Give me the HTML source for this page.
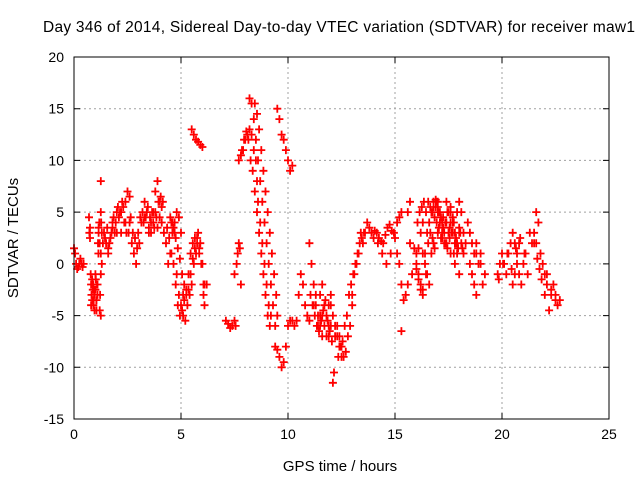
<!DOCTYPE html>
<html><head><meta charset="utf-8">
<style>
body{margin:0;background:#fff;}
svg{display:block;font-family:"Liberation Sans",sans-serif;}
</style></head>
<body>
<svg id="chart" width="640" height="480" viewBox="0 0 640 480">
<rect width="640" height="480" fill="#fff"/>
<text x="339" y="32" font-size="15.5" text-anchor="middle" textLength="592" fill="#000">Day 346 of 2014, Sidereal Day-to-day VTEC variation (SDTVAR) for receiver maw1</text>
<g id="grid"></g>
<g id="ticks"></g>
<g id="marks"></g>
<rect x="74" y="57" width="535" height="362" fill="none" stroke="#000" stroke-width="1"/>
<text x="340" y="471" font-size="15" text-anchor="middle">GPS time / hours</text>
<text transform="translate(18,238) rotate(-90)" font-size="15" text-anchor="middle">SDTVAR / TECUs</text>
</svg>
<script>
const xTicks=[0,5,10,15,20,25];
const yTicks=[-15,-10,-5,0,5,10,15,20];
const times=[0,0.05,0.1,0.15,0.2,0.25,0.3,0.35,0.4,0.45,
0.7,0.72,0.75,0.8,0.82,0.85,0.88,0.9,0.95,1.0,1.02,1.05,1.1,1.12,1.15,1.2,1.22,1.25,1.25,1.27,1.3,1.3,1.35,
1.4,1.5,1.6,1.7,1.8,1.9,2.0,2.1,2.2,2.3,2.4,2.5,2.6,2.7,2.8,2.9,3.0,
3.1,3.2,3.3,3.4,3.5,3.6,3.7,3.8,3.9,4.0,4.1,4.2,4.3,4.4,4.5,4.6,4.7,4.8,4.9,5.0,5.05,5.1,
4.5,4.6,4.7,4.8,4.9,5.0,5.1,5.2,5.3,5.4,5.5,5.6,5.7,5.8,5.9,6.0,6.1,6.1,6.2,
5.5,5.6,5.7,5.8,5.9,6.0,
7.1,7.2,7.3,7.4,7.5,7.5,7.6,7.65,7.7,7.75,7.8,7.55,
7.7,7.8,7.9,8.0,8.1,8.2,8.3,8.4,8.5,8.55,8.6,8.7,8.8,8.9,9.0,9.1,9.2,
8.2,8.3,8.4,8.5,8.6,8.7,8.8,8.9,9.0,9.1,9.2,9.3,9.4,9.5,
9.5,9.6,9.7,9.8,9.9,10.0,10.1,10.2,
9.4,9.5,9.6,9.7,9.8,9.9,10.0,10.1,10.2,10.3,10.4,10.5,10.6,10.7,10.8,10.9,11.0,
11.0,11.1,11.2,11.3,11.4,11.5,11.6,11.7,11.8,11.9,12.0,12.1,12.2,12.3,12.4,12.5,12.6,12.7,12.8,12.9,13.0,
11.5,11.6,11.7,11.8,11.9,12.0,12.1,12.2,12.3,12.4,12.5,12.1,12.15,
13.0,13.1,13.2,13.3,13.4,13.5,13.6,13.7,13.8,13.9,
14.0,14.2,14.4,14.6,14.8,15.0,15.1,15.2,15.3,
15.1,15.2,15.3,15.4,15.5,15.6,15.8,16.0,16.1,16.2,16.3,15.3,15.6,15.7,15.7,
16.0,16.1,16.2,16.3,16.4,16.5,16.6,16.7,16.8,16.9,17.0,17.1,17.2,17.3,17.4,17.5,17.6,17.7,17.8,17.9,18.0,18.1,18.2,18.3,18.4,18.5,18.6,18.7,18.8,
16.6,16.7,16.8,16.9,17.0,17.1,17.2,17.3,17.4,17.5,17.6,17.7,17.8,17.9,18.0,18.1,18.2,
16.3,16.4,16.5,16.6,16.7,16.8,17.0,17.2,17.4,17.6,17.8,18.0,
18.5,18.6,18.7,18.8,18.9,19.0,19.1,19.2,18.6,18.8,19.0,
19.8,19.9,20.0,20.1,20.2,20.3,20.4,20.5,20.6,20.7,20.8,20.9,21.0,21.1,21.2,
20.5,20.6,20.7,20.8,21.0,21.2,21.4,21.5,21.6,21.7,21.8,21.9,22.0,
22.0,22.1,22.2,22.3,22.4,22.5,22.6,22.7,21.6,21.7,
0.75,0.78,0.82,0.86,0.92,0.96,1.04,1.08,1.14,1.18,0.8,0.9,1.0,1.1,0.85,0.95,1.05,1.15,1.2,1.25,1.25,1.25,
1.45,1.55,1.65,1.75,1.85,1.95,2.05,2.15,2.25,2.35,2.45,2.55,1.6,1.8,2.0,2.2,2.4,2.6,2.65,2.75,2.85,2.95,
3.05,3.15,3.25,3.35,3.45,3.55,3.65,3.75,3.85,3.95,4.05,4.15,3.3,3.5,3.7,3.9,4.1,3.6,3.8,4.0,
4.35,4.45,4.55,4.65,4.75,4.85,4.95,5.05,5.15,5.25,5.35,5.45,5.55,5.65,5.75,5.85,5.95,6.05,
4.55,4.65,4.75,4.85,4.95,5.05,5.15,5.25,5.35,5.45,5.55,5.65,5.75,5.85,5.95,6.05,
7.85,7.95,8.05,8.15,8.25,8.35,8.45,8.55,8.65,8.75,8.85,8.95,9.05,9.15,
8.45,8.55,8.65,8.75,8.85,8.95,9.05,9.15,9.25,9.35,9.45,
11.05,11.15,11.25,11.35,11.45,11.55,11.65,11.75,11.85,11.95,12.05,11.2,11.4,11.6,11.8,12.0,11.3,11.5,11.7,11.9,
16.05,16.15,16.25,16.35,16.45,16.55,16.65,16.75,16.85,16.95,17.05,17.15,17.25,17.35,17.45,17.55,17.65,17.75,17.85,17.95,18.05,18.15,
16.5,16.6,16.7,16.8,16.9,17.0,17.1,17.2,17.3,17.4,17.5,17.6,17.7,17.8,17.9,18.0,
16.55,16.65,16.75,16.85,16.95,17.05,17.15,17.25,17.35,17.45,17.55,17.65,17.75,17.85,
14.05,14.15,14.25,14.35,14.45,14.55,14.65,14.75,14.85,14.95,
15.9,16.0,16.1,16.2,16.3,16.45,
19.85,20.05,20.25,20.45,20.65,20.85,21.05,21.3,21.5,21.65,21.75,21.85,22.1,22.3,22.5,
12.35,12.45,12.55,12.65,12.75,12.85,12.95,13.05,13.15,13.25,13.35,13.45,13.55];
const values=[1.5,1.0,0,-0.5,-0.3,0,0.5,0,-0.3,0,
4.5,3,2.5,-2,-3,-3.5,-2.5,-4,-3,-2.5,-1.5,-4.5,-2,2,3,2,-3,-5,8,4,0,3,2,
3,2,1,2.5,4,3,5,4.5,3,5.5,6,7,4,2,1,0,3,
4.5,5,6,5,3,4,5,7,8,6,4,3,2,0,1,3,4,5,4.5,3,-1,-3,
4.5,4,3,-1,-3,-4,-5,-5.5,-4,-3,-2,0,1,3,2,0,-2,-4,-2,
13,12.5,12,11.8,11.5,11.3,
-5.5,-5.8,-6.2,-6,-5.5,-1,0,1,2,1.5,-2,-6,
10,10.5,11,12,12.5,13,12.5,11,10,8,6,4,2,0,-2,-4,-5,
16,15.5,14,12,10,8,6,4,2,0,-2,-4,-6,-5,
15,14,12.5,12,11,10,9,9.5,
-8,-8.3,-9,-10,-9.5,-8,-6,-5.5,-5.5,-6,-5.5,-3,-1,-2,-4,-5,-5.5,
2,0,-2,-4,-5,-6,-7,-6,-5,-4,-3,-5,-7,-6,-7,-8,-9,-8.5,-7,-6,-4,
-3,-2,-4,-5,-6,-4,-5,-6,-7,-8,-9,-11.5,-10.5,
-3,-1,0,1,3,2,3,4,3.5,3,
2.5,2,1,0,1,2.5,4,4.5,5,
1,0,-2,-3.5,-3,-2,-1,1,1.5,3,4,-6.5,5,6,2,
0,-1,-2,-3,1,3,4,5,6,5.5,6,5,4,3,6,5,4,3,2,5,6,5,3,2,4,3,2,1,2,
4,5,5.5,6,5,4,3,2,4,3,5,4,2,1,3,2,1,
1,0,-1,-2,1,2,3,2.5,2,1,0,-1,
0,-1,-2,-3,0,1,-2,-1,2,1,0,
-1,0,1,0,-1,1,2,3,2,0,-1,-2,0,1,-1,
-2,-1,1,2,0,-1,2,3,5,4,1,0,-1,
-3,-2,-4.5,-3,-2,-3.5,-4,-3.5,2,4,
3.5,-1,-3,-2,-3.5,-4.5,-3.5,-2,1,4,-4,-2,-1,-3,-1.5,-2.5,-3.5,3.5,-4.5,5,-1,1,
2.5,3.5,2,3,4.5,4,5.5,5,6,4,3,3,1.5,3.5,3,5,4,6.5,4.5,3,2.5,1.5,2,4,
4,4.5,5.5,4.5,5,3.5,4.5,6,6.5,6,4.5,3.5,4,3.5,5.5,3,5,4.5,
3.5,2.5,1,0,-2,-4,-5,-4.5,-3.5,-2.5,-1,1,2,2.5,2,1,0,-3,
4,3.5,2.5,1.5,0.5,-1,-2,-3,-2.5,-1,0.5,1.5,2.5,1.5,0,-2,
11,12,12.8,12,10,9,7,5,3,1,-1,-3,-5,-6,
15.5,14.5,13,11,9,7,5,3,1,-1,-3,
-3,-4,-5,-6,-6.5,-5.5,-4.5,-3.5,-5.5,-6.5,-7.5,-4,-6,-5,-7,-6,-3,-5,-6,-7,
4,5,5.5,6,5,6,5.5,5,4.5,6,5,4.5,3.5,4,5,3.5,3,4,2.5,1.5,3,1.5,
3,4,5,6,6.2,5.5,4,3,2,4,3,5.5,4.5,3,2,3.5,
2,3,2.5,1.5,4,3.5,2.5,4.5,2,1.5,2.5,3,1,2,
3.2,3,2.5,2.2,2,2.8,3.5,3.8,3.2,3,
1.5,-0.5,-1.5,-2.5,-2.5,-1,
-1.5,0,1,-0.5,1.5,2.5,1,3,2,0.5,-0.5,-1.5,-1,-2.5,-3,
-9,-8,-7.5,-6,-5,-3,-2,-1,0,1,2,2.5,3];
const X0=74,X1=609,Y0=419,Y1=57,XMIN=0,XMAX=25,YMIN=-15,YMAX=20;
function sx(v){return X0+(v-XMIN)/(XMAX-XMIN)*(X1-X0);}
function sy(v){return Y0-(v-YMIN)/(YMAX-YMIN)*(Y0-Y1);}
const NS="http://www.w3.org/2000/svg";
const grid=document.getElementById('grid'),ticks=document.getElementById('ticks'),marks=document.getElementById('marks');
xTicks.forEach(t=>{
  const x=sx(t);
  if(t>XMIN&&t<XMAX){const l=document.createElementNS(NS,'line');
  l.setAttribute('x1',x);l.setAttribute('x2',x);l.setAttribute('y1',Y1);l.setAttribute('y2',Y0);
  l.setAttribute('stroke','#a0a0a0');l.setAttribute('stroke-dasharray','2,3');
  
  
  grid.appendChild(l);}
  const tk=document.createElementNS(NS,'path');
  tk.setAttribute('d',`M${x} ${Y0}v-6M${x} ${Y1}v6`);tk.setAttribute('stroke','#000');
  
  
  ticks.appendChild(tk);
  const tx=document.createElementNS(NS,'text');
  tx.setAttribute('x',x);tx.setAttribute('y',Y0+20);tx.setAttribute('text-anchor','middle');tx.setAttribute('font-size','14');
  tx.textContent=t;
  
  
  ticks.appendChild(tx);
});
yTicks.forEach(t=>{
  const y=sy(t);
  if(t>YMIN&&t<YMAX){const l=document.createElementNS(NS,'line');
  l.setAttribute('x1',X0);l.setAttribute('x2',X1);l.setAttribute('y1',y);l.setAttribute('y2',y);
  l.setAttribute('stroke','#a0a0a0');l.setAttribute('stroke-dasharray','2,3');
  
  
  grid.appendChild(l);}
  const tk=document.createElementNS(NS,'path');
  tk.setAttribute('d',`M${X0} ${y}h6M${X1} ${y}h-6`);tk.setAttribute('stroke','#000');
  
  
  ticks.appendChild(tk);
  const tx=document.createElementNS(NS,'text');
  tx.setAttribute('x',X0-10);tx.setAttribute('y',y+5);tx.setAttribute('text-anchor','end');tx.setAttribute('font-size','14');
  tx.textContent=t;
  
  
  ticks.appendChild(tx);
});
let d='';
for(let i=0;i<Math.min(times.length,values.length);i++){
  const x=sx(times[i]),y=sy(values[i]);
  d+=`M${(x-4).toFixed(1)} ${y.toFixed(1)}h8M${x.toFixed(1)} ${(y-4).toFixed(1)}v8`;
}
const p=document.createElementNS(NS,'path');
p.setAttribute('d',d);p.setAttribute('stroke','#ff0000');p.setAttribute('stroke-width','1.8');p.setAttribute('fill','none');


marks.appendChild(p);
</script>
</body></html>
